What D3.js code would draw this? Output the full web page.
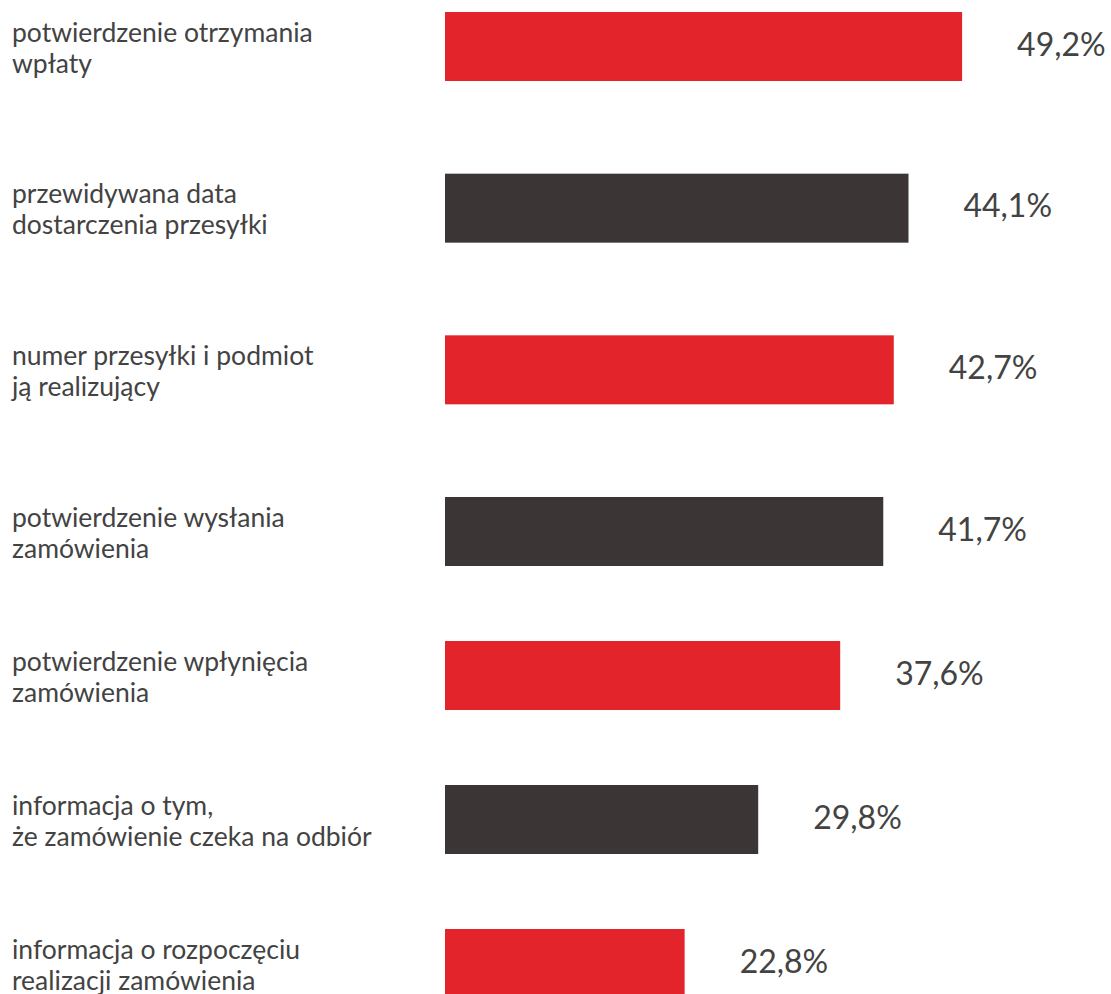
<!DOCTYPE html>
<html lang="pl">
<head>
<meta charset="utf-8">
<script src="https://cdn.jsdelivr.net/npm/d3@7"></script>
<style>
  html, body { margin: 0; padding: 0; background: #ffffff; }
  svg { display: block; }
  text { font-family: Lato, "Open Sans", sans-serif; }
</style>
</head>
<body>
<svg id="chart" width="1111" height="994"></svg>
<script>
// Category labels, each split into its two display lines
const categories = [
  ["potwierdzenie otrzymania", "wpłaty"],
  ["przewidywana data", "dostarczenia przesyłki"],
  ["numer przesyłki i podmiot", "ją realizujący"],
  ["potwierdzenie wysłania", "zamówienia"],
  ["potwierdzenie wpłynięcia", "zamówienia"],
  ["informacja o tym,", "że zamówienie czeka na odbiór"],
  ["informacja o rozpoczęciu", "realizacji zamówienia"]
];

// Share of respondents, in percent
const values = [49.2, 44.1, 42.7, 41.7, 37.6, 29.8, 22.8];

// Value labels as printed next to the bars
const valueLabels = ["49,2%", "44,1%", "42,7%", "41,7%", "37,6%", "29,8%", "22,8%"];

const RED = "#e3242a";
const DARK = "#3b3635";
const TEXT = "#434343";

const svg = d3.select("#chart");

// Horizontal value scale
const x = d3.scaleLinear().domain([0, 50]).range([445, 970.5]);

// Row positions: the upper rows sit a little further apart than the lower ones
const y = d3.scaleLinear().domain([0, 3, 6]).range([12, 497, 929]);
const barH = 69;

const rows = svg.selectAll("g.row")
  .data(values.map((v, i) => ({ v, i, label: categories[i], text: valueLabels[i] })))
  .join("g")
  .attr("class", "row");

rows.append("rect")
  .attr("x", x(0))
  .attr("y", d => y(d.i))
  .attr("width", d => x(d.v) - x(0))
  .attr("height", barH)
  .attr("fill", d => d.i % 2 === 0 ? RED : DARK);

rows.append("text")
  .attr("x", d => x(d.v) + 55)
  .attr("y", d => y(d.i) + barH / 2 + 9)
  .attr("font-size", 32)
  .attr("fill", TEXT)
  .text(d => d.text);

const lbl = rows.append("text")
  .attr("font-size", 26.5)
  .attr("fill", TEXT);

lbl.selectAll("tspan")
  .data(d => d.label.map((line, j) => ({ line, j, cy: y(d.i) + barH / 2 })))
  .join("tspan")
  .attr("x", 12)
  .attr("y", t => t.cy - 5 + t.j * 31)
  .text(t => t.line);
</script>
</body>
</html>
